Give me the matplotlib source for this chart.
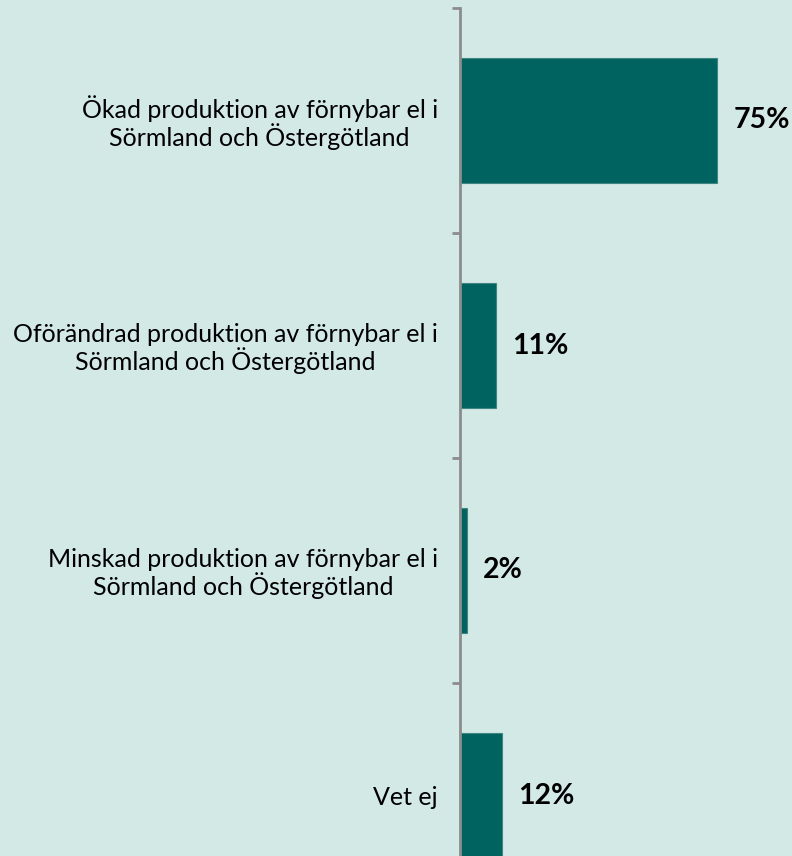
import matplotlib.pyplot as plt
import numpy as np

categories = ["Ökad produktion av förnybar el i\nSörmland och Östergötland",
              "Oförändrad produktion av förnybar el i\nSörmland och Östergötland",
              "Minskad produktion av förnybar el i\nSörmland och Östergötland",
              "Vet ej"]
values = [75, 10.5, 2, 12.2]
labels = ["75%", "11%", "2%", "12%"]

bg = "#D3E9E6"
bar_color = "#00635F"
axis_color = "#8C8C8C"

W, H = 792, 856
fig = plt.figure(figsize=(W / 100, H / 100), dpi=100)
fig.patch.set_facecolor(bg)

# axis spans y=8..908 px (bottom is cut off), x from 460 px to right edge
x0, top, bottom = 460, 8, 908
ax = fig.add_axes([x0 / W, (H - bottom) / H, (W - x0) / W, (bottom - top) / H])
ax.set_facecolor(bg)

y = np.arange(len(categories))
ax.barh(y, values, height=0.556, color=bar_color, edgecolor="#3F8581", linewidth=0.8)
ax.set_xlim(0, (W - x0) / 3.43)
ax.set_ylim(len(categories) - 0.5, -0.5)

for i, (v, lab) in enumerate(zip(values, labels)):
    ax.annotate(lab, (v, i), xytext=(11.5, 0), textcoords="offset points",
                ha="left", va="center", fontsize=20.5, fontweight="bold",
                family="Lato", color="black")

for s in ["top", "right", "bottom"]:
    ax.spines[s].set_visible(False)
ax.spines["left"].set_color(axis_color)
ax.spines["left"].set_linewidth(2)
ax.set_xticks([])
ax.set_yticks(y)
ax.set_yticklabels(categories, fontsize=18, family="Lato", multialignment="center",
                   linespacing=1.05)
ax.tick_params(axis="y", which="major", length=0, pad=16)
ax.set_yticks(np.arange(-0.5, len(categories), 1), minor=True)
ax.tick_params(axis="y", which="minor", length=6, width=2, color=axis_color)

fig.savefig("out.png", dpi=100, facecolor=bg)
